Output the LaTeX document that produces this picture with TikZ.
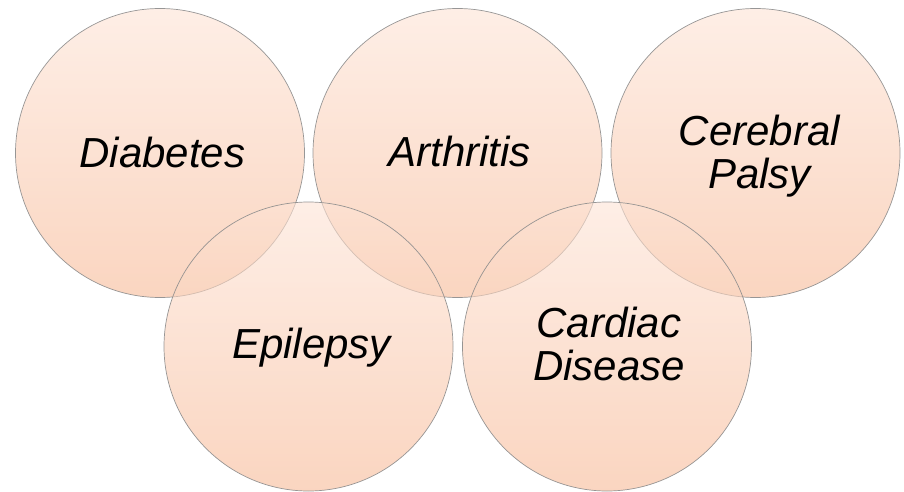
\documentclass[tikz,border=0pt]{standalone}
\usepackage{fontspec}
\setmainfont{Liberation Sans}
\definecolor{topc}{RGB}{253,227,213}
\definecolor{botc}{RGB}{247,185,150}
\definecolor{edgec}{RGB}{140,140,140}
\begin{document}
\begin{tikzpicture}[x=1pt,y=1pt,
  circ/.style={circle, inner sep=0pt, minimum size=289pt, draw=edgec, line width=0.7pt,
    top color=topc, bottom color=botc, fill opacity=0.6, draw opacity=0.9},
  lbl/.style={font=\fontsize{42}{43}\selectfont\itshape, align=center, inner sep=0pt, text=black}]
\useasboundingbox (0,0) rectangle (904,491);
\node[circ] (cdia) at (160,338) {};
\node[circ] (cart) at (457.5,338) {};
\node[circ] (ccer) at (755.5,338) {};
\node[circ] (cepi) at (308.5,144.5) {};
\node[circ] (ccar) at (607,144.5) {};
\node[lbl, anchor=base] (tdia) at (162.5,324) {Diabetes};
\node[lbl, anchor=base] (tart) at (459.5,324.3) {Arthritis};
\node[lbl, anchor=base] (tepi) at (311.5,132.7) {Epilepsy};
\node[lbl, anchor=base] (tcer) at (759.5,303) {Cerebral\\Palsy};
\node[lbl, anchor=base] (tcar) at (609,110.5) {Cardiac\\Disease};
\end{tikzpicture}
\end{document}
